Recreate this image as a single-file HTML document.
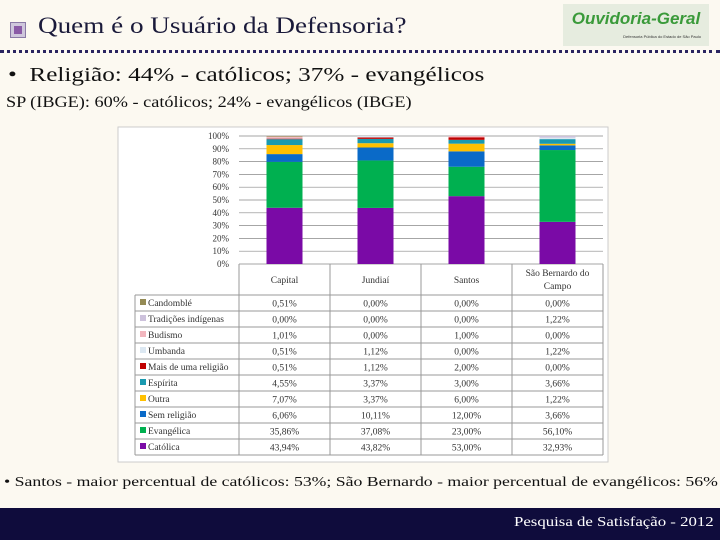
<!DOCTYPE html>
<html><head><meta charset="utf-8"><style>
body{margin:0;width:720px;height:540px;background:#fcf9f1;position:relative;overflow:hidden;font-family:"Liberation Serif",serif}
.abs{position:absolute;white-space:nowrap;transform-origin:left top}
</style></head><body>
<div class="abs" style="left:10px;top:22px;width:14px;height:14px;background:#cfc7dc;border:1px solid #8a7aa6"><div style="margin:3px;width:8px;height:8px;background:#8a5aa6"></div></div>
<div class="abs" style="left:38px;top:13px;font-size:23px;color:#1a1a3a;transform:scaleX(1.18)">Quem é o Usuário da Defensoria?</div>
<div class="abs" style="left:563px;top:4px;width:146px;height:42px;background:#e6ecdf">
<div style="font-family:'Liberation Sans',sans-serif;font-weight:bold;font-style:italic;color:#3a9a3a;font-size:17px;text-align:center;margin-top:5px">Ouvidoria-Geral</div>
<div style="font-family:'Liberation Sans',sans-serif;font-size:4px;color:#333;text-align:right;margin-right:8px;margin-top:5px">Defensoria Pública do Estado de São Paulo</div></div>
<div class="abs" style="left:0;top:50px;width:720px;height:0;border-top:3px dotted #2a2460"></div>
<div class="abs" style="left:8px;top:64px;font-size:20px;color:#111;transform:scaleX(1.26)">•&nbsp; Religião: 44% - católicos; 37% - evangélicos</div>
<div class="abs" style="left:6px;top:94px;font-size:16px;color:#111;transform:scaleX(1.14)">SP (IBGE): 60% - católicos; 24% - evangélicos (IBGE)</div>
<svg class="abs" style="left:0;top:0" width="720" height="540" id="chart"></svg>
<div class="abs" style="left:4px;top:475px;font-size:14px;color:#111;transform:scaleX(1.265)">• Santos - maior percentual de católicos: 53%; São Bernardo - maior percentual de evangélicos: 56%</div>
<div class="abs" style="left:0;top:508px;width:720px;height:32px;background:#0f0c3c"></div>
<div class="abs" style="left:514px;top:515px;font-size:14px;color:#fff;transform:scaleX(1.2)">Pesquisa de Satisfação - 2012</div>
<script>
const categories=["Capital","Jundiaí","Santos","São Bernardo do Campo"];
const seriesNames=["Católica","Evangélica","Sem religião","Outra","Espírita","Mais de uma religião","Umbanda","Budismo","Tradições indígenas","Candomblé"];
const catolica=[43.94,43.82,53.00,32.93];
const evangelica=[35.86,37.08,23.00,56.10];
const semReligiao=[6.06,10.11,12.00,3.66];
const outra=[7.07,3.37,6.00,1.22];
const espirita=[4.55,3.37,3.00,3.66];
const maisDeUma=[0.51,1.12,2.00,0.00];
const umbanda=[0.51,1.12,0.00,1.22];
const budismo=[1.01,0.00,1.00,0.00];
const tradicoes=[0.00,0.00,0.00,1.22];
const candomble=[0.51,0.00,0.00,0.00];
const yTicks=[0,10,20,30,40,50,60,70,80,90,100];
const series=[catolica,evangelica,semReligiao,outra,espirita,maisDeUma,umbanda,budismo,tradicoes,candomble];
const colors=["#7a0aa6","#00b050","#0a6ac8","#ffc000","#1a9ab0","#c00000","#dce8f2","#f2b6be","#cdc2dc","#948a54"];
const svg=document.getElementById('chart');const NS="http://www.w3.org/2000/svg";
function mk(t,a,txt){const e=document.createElementNS(NS,t);for(const k in a)e.setAttribute(k,a[k]);if(txt!==undefined)e.textContent=txt;svg.appendChild(e);return e;}
const X0=239,CW=91,Y0=264,PH=128,BW=36;
const y=v=>Y0-v/100*PH;
const cx=i=>X0+CW*i+CW/2;
let p=mk('rect',{x:118,y:127,width:490,height:335,fill:'#fff',stroke:'#ccc'});

yTicks.forEach(t=>{
 let l=mk('line',{x1:X0,x2:X0+CW*4,y1:y(t),y2:y(t),stroke:'#888','stroke-width':0.7});
 
 let tx=mk('text',{x:X0-10,y:y(t)+3,'font-size':9,'text-anchor':'end',fill:'#333','font-family':'Liberation Serif'},t+'%');
 
});
categories.forEach((c,i)=>{
 let acc=0;
 series.forEach((s,k)=>{
  const v=s[i];if(v<=0)return;
  let r=mk('rect',{x:cx(i)-BW/2,y:y(acc+v),width:BW,height:v/100*PH,fill:colors[k]});
  
  acc+=v;
 });
});
const TY=295,RH=16;
for(let i=0;i<=4;i++){let l=mk('line',{x1:X0+CW*i,x2:X0+CW*i,y1:Y0,y2:TY+RH*10,stroke:'#999'});}
let hb=mk('line',{x1:135,x2:X0+CW*4,y1:TY,y2:TY,stroke:'#999'});
let vl=mk('line',{x1:135,x2:135,y1:TY,y2:TY+RH*10,stroke:'#999'});
categories.forEach((c,i)=>{
 if(i===3){
  let a=mk('text',{x:cx(i),y:276,'font-size':9.5,'text-anchor':'middle',fill:'#333'},'São Bernardo do');
  let b=mk('text',{x:cx(i),y:289,'font-size':9.5,'text-anchor':'middle',fill:'#333'},'Campo');
 } else {let a=mk('text',{x:cx(i),y:283,'font-size':9.5,'text-anchor':'middle',fill:'#333'},c);}
});
for(let r=0;r<10;r++){
 const k=9-r;const ry=TY+RH*r;
 let l=mk('line',{x1:135,x2:X0+CW*4,y1:ry+RH,y2:ry+RH,stroke:'#999'});
 let sw=mk('rect',{x:140,y:ry+4,width:6,height:6,fill:colors[k]});
 let nm=mk('text',{x:148,y:ry+11,'font-size':9.5,fill:'#333'},seriesNames[k]);
 categories.forEach((c,i)=>{
  let t=mk('text',{x:cx(i),y:ry+11.5,'font-size':9.5,'text-anchor':'middle',fill:'#333'},series[k][i].toFixed(2).replace('.',',')+'%');
  
 });
}
</script>
</body></html>
